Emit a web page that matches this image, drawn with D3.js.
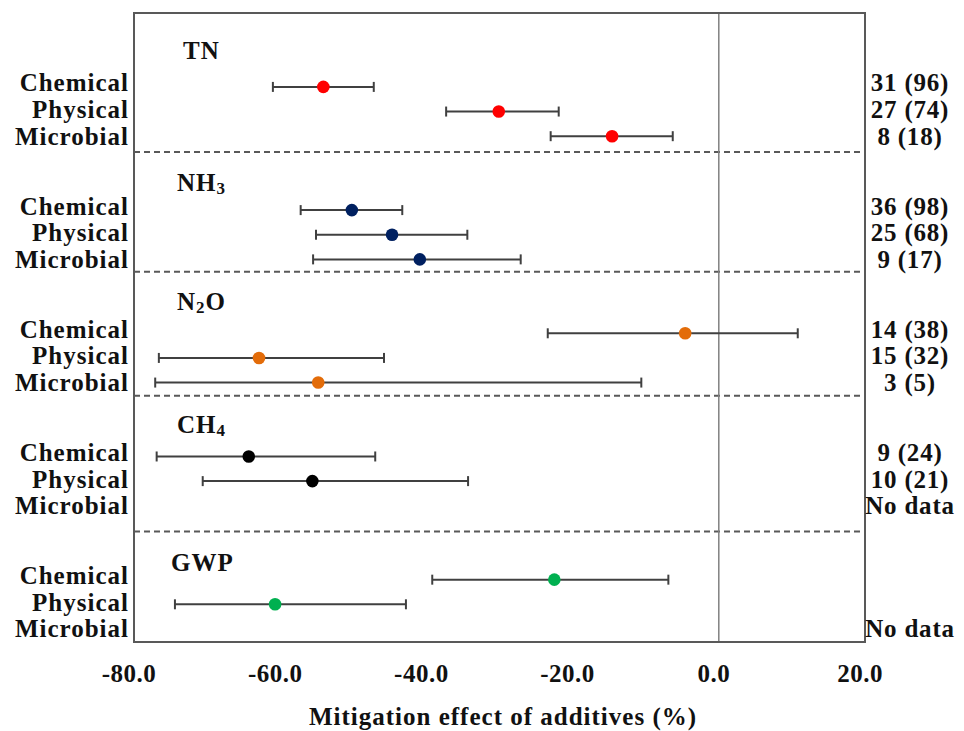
<!DOCTYPE html>
<html>
<head>
<meta charset="utf-8">
<script src="https://cdn.jsdelivr.net/npm/d3@7"></script>
<style>
  body { margin: 0; background: #fff; }
  text { font-family: "Liberation Serif", "Times New Roman", serif; font-weight: bold; fill: #111; }
</style>
</head>
<body>
<svg id="main-svg" width="964" height="731"></svg>
<script>
// data
var groups = ["TN", "NH3", "N2O", "CH4", "GWP"];
var additives = ["Chemical", "Physical", "Microbial"];
var colors = ["#ff0000", "#002060", "#e36c09", "#000000", "#00b050"];
// mean effect, lower and upper CI (%), null = no data
var means = [[-54.1, -30.1, -14.6], [-50.2, -44.7, -40.9], [-4.6, -62.9, -54.8], [-64.3, -55.6, null], [-22.5, -60.7, null]];
var lows  = [[-61.0, -37.3, -23.0], [-57.2, -55.1, -55.5], [-23.4, -76.6, -77.1], [-76.9, -70.6, null], [-39.2, -74.4, null]];
var highs = [[-47.2, -21.9, -6.3],  [-43.3, -34.4, -27.1], [10.8, -45.8, -10.6],  [-47.0, -34.3, null], [-6.9, -42.8, null]];
// number of studies (observations)
var studies = [[31, 27, 8], [36, 25, 9], [14, 15, 3], [9, 10, null], [null, null, null]];
var observations = [[96, 74, 18], [98, 68, 17], [38, 32, 5], [24, 21, null], [null, null, null]];
var xTicks = [-80, -60, -40, -20, 0, 20];

var canvas = d3.select('#main-svg');
var plotLeft = 134, plotRight = 865, plotTop = 13, plotBottom = 642;

var x = d3.scaleLinear().domain([-80, 20]).range([plotLeft, plotRight]);
// one slot per row, 5 slots per group
var y = d3.scaleLinear().domain([0, 25.53]).range([plotTop, plotBottom]);
var rowSlot = (g, r) => g * 5 + r + 3;
var titleSlots = [1.54, 6.86, 11.7, 16.7, 22.3];
var dividerSlots = [5.64, 10.5, 15.54, 21.05];

// flatten rows
var rows = [];
groups.forEach((g, gi) => additives.forEach((a, ri) => rows.push({
  g: gi, r: ri, name: a, mean: means[gi][ri], lo: lows[gi][ri], hi: highs[gi][ri],
  n: studies[gi][ri], obs: observations[gi][ri]
})));

// dashed dividers
canvas.append('g').selectAll('line').data(dividerSlots).enter().append('line')
  .attr('x1', plotLeft).attr('x2', plotRight)
  .attr('y1', (d) => y(d)).attr('y2', (d) => y(d))
  .style('stroke', '#595959').style('stroke-width', 2).style('stroke-dasharray', '6,4');

// zero line
canvas.append('line')
  .attr('x1', x(0)).attr('x2', x(0)).attr('y1', plotTop).attr('y2', plotBottom)
  .style('stroke', '#808080').style('stroke-width', 1.5);

// frame
canvas.append('rect')
  .attr('x', plotLeft).attr('y', plotTop).attr('width', plotRight - plotLeft).attr('height', plotBottom - plotTop)
  .style('fill', 'none').style('stroke', '#595959').style('stroke-width', 2);

// error bars and points
var withData = rows.filter((d) => d.mean !== null);
var bars = canvas.append('g').selectAll('g').data(withData).enter().append('g')
  .attr('transform', (d) => `translate(0,${y(rowSlot(d.g, d.r))})`);
bars.append('line')
  .attr('x1', (d) => x(d.lo)).attr('x2', (d) => x(d.hi))
  .style('stroke', '#404040').style('stroke-width', 2);
bars.append('line')
  .attr('x1', (d) => x(d.lo)).attr('x2', (d) => x(d.lo)).attr('y1', -5).attr('y2', 5)
  .style('stroke', '#404040').style('stroke-width', 2);
bars.append('line')
  .attr('x1', (d) => x(d.hi)).attr('x2', (d) => x(d.hi)).attr('y1', -5).attr('y2', 5)
  .style('stroke', '#404040').style('stroke-width', 2);
bars.append('circle')
  .attr('cx', (d) => x(d.mean)).attr('r', 6.3)
  .style('fill', (d) => colors[d.g]);

// left row labels
var labelY = (d) => y(rowSlot(d.g, d.r)) - (2 - d.r) * 2;
canvas.append('g').selectAll('text').data(rows).enter().append('text')
  .attr('x', 129).attr('y', labelY)
  .attr('text-anchor', 'end').attr('dominant-baseline', 'central')
  .style('font-size', '25px').style('letter-spacing', '1px')
  .text((d) => d.name);

// right count labels
canvas.append('g').selectAll('text')
  .data(rows.filter((d) => d.mean === null || d.n !== null)).enter().append('text')
  .attr('x', 910).attr('y', labelY)
  .attr('text-anchor', 'middle').attr('dominant-baseline', 'central')
  .style('font-size', '25px').style('letter-spacing', '0.8px')
  .text((d) => d.mean === null ? 'No data' : `${d.n} (${d.obs})`);

// group titles with subscripts
var titles = canvas.append('g').selectAll('text').data(groups).enter().append('text')
  .attr('x', (d, i) => i === 0 ? 183 : i === 4 ? 171 : 177).attr('y', (d, i) => y(titleSlots[i]))
  .attr('dominant-baseline', 'central')
  .style('font-size', '25px').style('letter-spacing', '1px');
titles.each(function(d) {
  var t = d3.select(this);
  var m = d.match(/^([A-Z]+?)(\d)(.*)$/);
  if (!m) { t.text(d); return; }
  t.append('tspan').text(m[1]);
  t.append('tspan').text(m[2]).attr('dy', 6).style('font-size', '17px');
  if (m[3]) t.append('tspan').text(m[3]).attr('dy', -6);
});

// x axis tick labels (plain hyphen as in the original)
canvas.append('g').selectAll('text').data(xTicks).enter().append('text')
  .attr('x', (d) => x(d) - 5).attr('y', 673)
  .attr('text-anchor', 'middle').attr('dominant-baseline', 'central')
  .style('font-size', '25px').style('letter-spacing', '0.5px')
  .text((d) => d3.format('.1f')(d).replace('\u2212', '-'));

// axis title
canvas.append('text')
  .attr('x', 503).attr('y', 716)
  .attr('text-anchor', 'middle').attr('dominant-baseline', 'central')
  .style('font-size', '25px').style('letter-spacing', '1px')
  .text('Mitigation effect of additives (%)');
</script>
</body>
</html>
